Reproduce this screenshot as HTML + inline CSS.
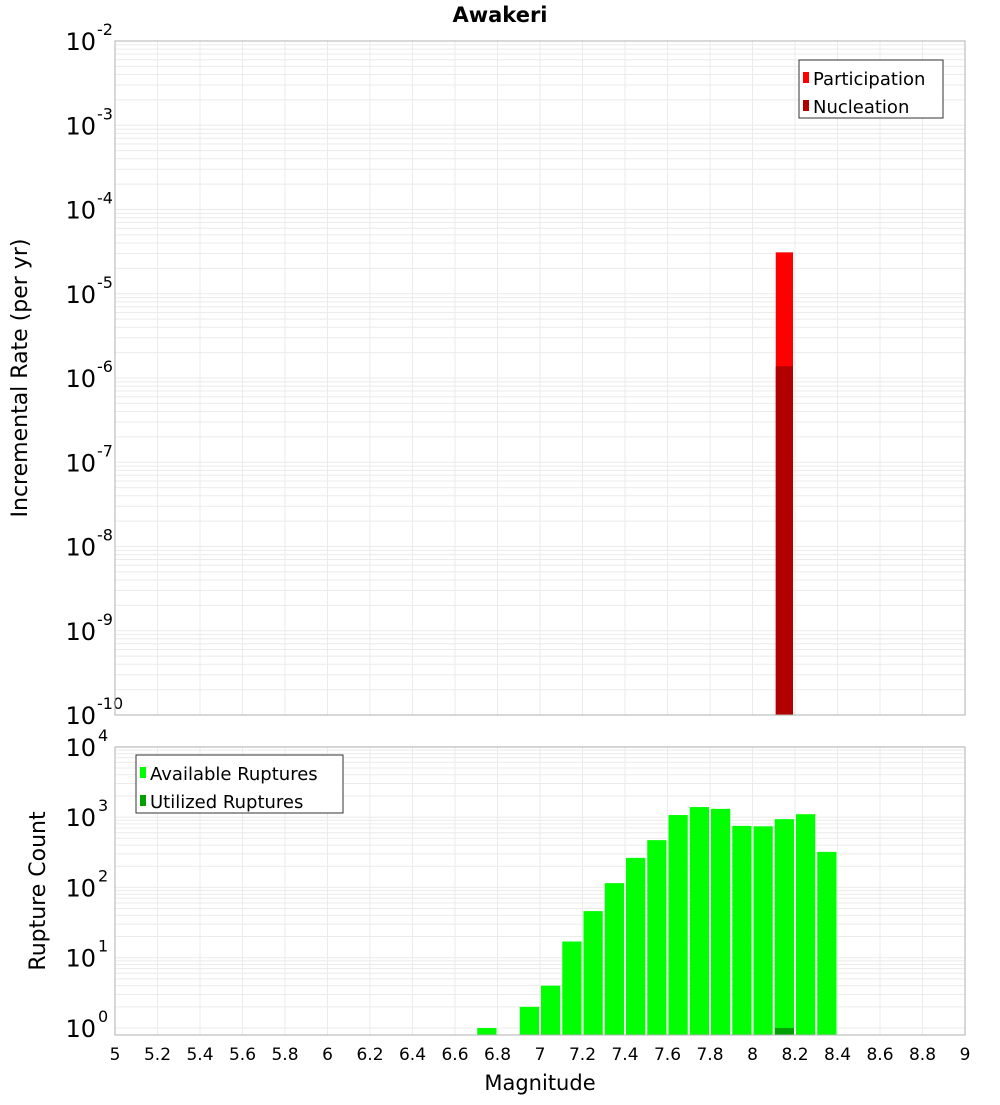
<!DOCTYPE html>
<html><head><meta charset="utf-8"><style>
body{margin:0;background:#fff;}
svg text{font-family:"DejaVu Sans","Liberation Sans",sans-serif;}
</style></head><body>
<svg id="c" width="1000" height="1100" xmlns="http://www.w3.org/2000/svg">
<text x="500" y="22" text-anchor="middle" font-size="21" font-weight="bold">Awakeri</text>
<text transform="translate(27,378) rotate(-90)" text-anchor="middle" font-size="22">Incremental Rate (per yr)</text>
<text transform="translate(45,891) rotate(-90)" text-anchor="middle" font-size="22">Rupture Count</text>
<text x="540" y="1090" text-anchor="middle" font-size="21">Magnitude</text>
<g id="g"></g>
</svg>
<script>
const magBins=[6.75,6.95,7.05,7.15,7.25,7.35,7.45,7.55,7.65,7.75,7.85,7.95,8.05,8.15,8.25,8.35];
const availableCounts=[1,2,4,17,46,115,263,470,1070,1390,1310,750,740,935,1100,320];
const utilizedMags=[8.15];
const utilizedCounts=[1];
const rateMags=[8.15];
const participationRates=[3.1e-5];
const nucleationRates=[1.38e-6];
const xTicks=[5,5.2,5.4,5.6,5.8,6,6.2,6.4,6.6,6.8,7,7.2,7.4,7.6,7.8,8,8.2,8.4,8.6,8.8,9];
const topExps=[-2,-3,-4,-5,-6,-7,-8,-9,-10];
const botExps=[0,1,2,3,4];

const NS="http://www.w3.org/2000/svg";
const g=document.getElementById('g');
const L=115,R=965;
const x=m=>L+(m-5)/4*(R-L);
const T0=41,T1=715;
const yt=v=>T0+(-2-Math.log10(v))/8*(T1-T0);
const B0=747,B1=1035,BD=70.3;
const yb=v=>1028-Math.log10(v)*BD;
function el(t,a,p){const e=document.createElementNS(NS,t);for(const k in a)e.setAttribute(k,a[k]);(p||g).appendChild(e);return e;}

// top grid
for(let d=-10;d<-2;d++)for(let k=1;k<10;k++){const yy=yt(k*Math.pow(10,d));
 const l=el('line',{x1:L,x2:R,y1:yy,y2:yy,stroke:'#ebebeb','stroke-width':1});
 }
for(let d=0;d<5;d++)for(let k=1;k<10;k++){const v=k*Math.pow(10,d);if(v>1e4)continue;const yy=yb(v);if(yy>B1)continue;
 const l=el('line',{x1:L,x2:R,y1:yy,y2:yy,stroke:'#ebebeb','stroke-width':1});
 }
for(const t of xTicks){const xx=x(t);
 for(const [a,b] of [[T0,T1],[B0,B1]]){const l=el('line',{x1:xx,x2:xx,y1:a,y2:b,stroke:'#ebebeb','stroke-width':1});
 }
 const tx=el('text',{x:xx,y:1060,'text-anchor':'middle','font-size':17});tx.textContent=String(t);
 }
// top ticks
for(const e of topExps){const yy=yt(Math.pow(10,e));
 const tx=el('text',{x:96,y:yy+9,'text-anchor':'end','font-size':24});tx.textContent='10';
 
 const s=el('text',{x:97,y:yy-6,'font-size':16});s.textContent=String(e);
 }
for(const e of botExps){const yy=yb(Math.pow(10,e));
 const tx=el('text',{x:96,y:yy+9,'text-anchor':'end','font-size':24});tx.textContent='10';
 
 const s=el('text',{x:98,y:yy-6,'font-size':16});s.textContent=String(e);
 }
// top bars
const bw=(x(0.1)-x(0))-2;
rateMags.forEach((m,i)=>{
 const y1=yt(participationRates[i]);
 let r=el('rect',{x:x(m)-bw/2+1,y:y1,width:bw-2,height:T1-y1,fill:'#ff0000'});
 
 const y2=yt(nucleationRates[i]);
 r=el('rect',{x:x(m)-bw/2+1,y:y2,width:bw-2,height:T1-y2,fill:'#b20000'});
 });
magBins.forEach((m,i)=>{const yy=yb(availableCounts[i]);
 const r=el('rect',{x:x(m)-bw/2,y:yy,width:bw,height:B1-yy,fill:'#00ff00'});
 });
utilizedMags.forEach((m,i)=>{const yy=yb(utilizedCounts[i]);
 const r=el('rect',{x:x(m)-bw/2,y:yy,width:bw,height:B1-yy,fill:'#00a000'});
 });
// frames
let f=el('rect',{x:L,y:T0,width:R-L,height:T1-T0,fill:'none',stroke:'#b0b0b0'});

f=el('rect',{x:L,y:B0,width:R-L,height:B1-B0,fill:'none',stroke:'#b0b0b0'});

// legends
function legend(x0,y0,w,h,items,name){
 const b=el('rect',{x:x0,y:y0,width:w,height:h,fill:'#fff',stroke:'#333'});
 
 items.forEach((it,i)=>{const yy=y0+19+i*28;
  const s=el('rect',{x:x0+4,y:yy-7,width:6,height:11,fill:it[1]});
  
  const t=el('text',{x:x0+14,y:yy+6,'font-size':18});t.textContent=it[0];
  });}
legend(799,60,144,58,[['Participation','#ff0000'],['Nucleation','#b20000']],'top-legend');
legend(136,755,207,58,[['Available Ruptures','#00ff00'],['Utilized Ruptures','#00a000']],'bottom-legend');
</script>
</body></html>
